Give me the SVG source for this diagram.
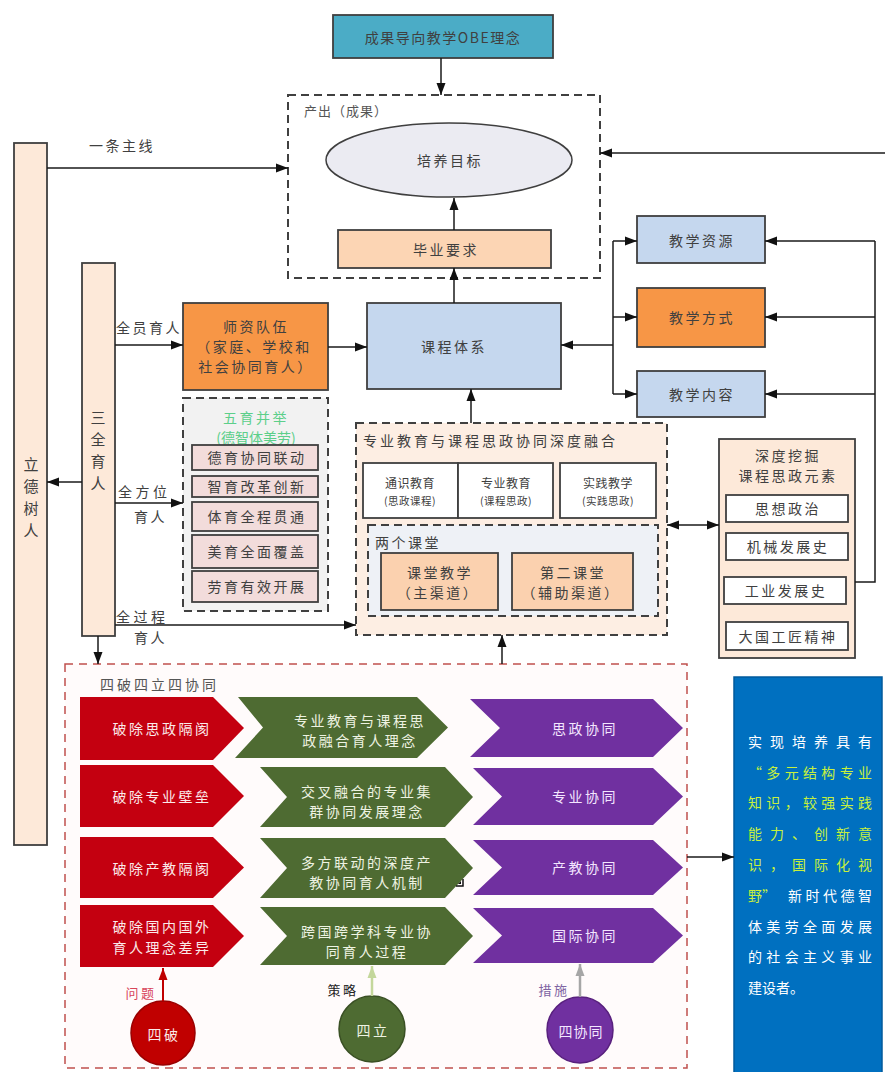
<svg xmlns="http://www.w3.org/2000/svg" width="885" height="1072" viewBox="0 0 885 1072">
<defs>
<style>
text{font-family:"Noto Sans CJK SC","Noto Sans",sans-serif;fill:#404040;font-size:14px;letter-spacing:2.5px;}
.c{text-anchor:middle;dominant-baseline:central;}
.l{dominant-baseline:central;}
.v{font-size:15px;letter-spacing:0;}
.box{stroke:#3f3f3f;stroke-width:1.8;}
.dash{stroke:#404040;stroke-width:2;stroke-dasharray:8 5;}
.ln{fill:none;stroke:#1a1a1a;stroke-width:1.5;}
.s{font-size:10.5px;letter-spacing:0.5px;}
.w{fill:#fbeaea;}
.wg{fill:#eef3e2;}
.wp{fill:#f3e6ff;}
.bt{fill:#ffffff;letter-spacing:0;}
.yt{fill:#c8f03c;letter-spacing:0;}
</style>
<marker id="ah" viewBox="0 0 12 10" refX="12" refY="5" markerWidth="12" markerHeight="10" markerUnits="userSpaceOnUse" orient="auto-start-reverse"><path d="M0,0.5 L12,5 L0,9.5 z" fill="#111"/></marker>
<marker id="ahr" viewBox="0 0 12 10" refX="12" refY="5" markerWidth="12" markerHeight="10" markerUnits="userSpaceOnUse" orient="auto"><path d="M0,0.5 L12,5 L0,9.5 z" fill="#c00000"/></marker>
<marker id="ahg" viewBox="0 0 12 10" refX="12" refY="5" markerWidth="12" markerHeight="10" markerUnits="userSpaceOnUse" orient="auto"><path d="M0,0.5 L12,5 L0,9.5 z" fill="#c4d79b"/></marker>
<marker id="ahp" viewBox="0 0 12 10" refX="12" refY="5" markerWidth="12" markerHeight="10" markerUnits="userSpaceOnUse" orient="auto"><path d="M0,0.5 L12,5 L0,9.5 z" fill="#a6a6a6"/></marker>
</defs>
<rect width="885" height="1072" fill="#ffffff"/>

<g id="obe">
<rect class="box" x="333" y="15" width="220" height="43" fill="#4bacc6"/>
<text class="c" x="443" y="37" style="letter-spacing:1.5px">成果导向教学OBE理念</text>
</g>

<g id="output">
<rect class="dash" x="288" y="95" width="312" height="183" fill="#ffffff"/>
<text class="l" x="304" y="110" style="font-size:13px;letter-spacing:1px;fill:#555">产出（成果）</text>
</g>
<g id="goal">
<ellipse cx="449" cy="160" rx="123" ry="37" fill="#ebebf2" stroke="#3f3f3f" stroke-width="1.5"/>
<text class="c" x="450" y="160">培养目标</text>
</g>
<g id="grad">
<rect class="box" x="338" y="230" width="213" height="38" fill="#fcd5b4"/>
<text class="c" x="446" y="249">毕业要求</text>
</g>

<g id="lide">
<rect class="box" x="14" y="143" width="33" height="702" fill="#fde9d9"/>
<text class="c v" x="31" y="463">立</text>
<text class="c v" x="31" y="485">德</text>
<text class="c v" x="31" y="507">树</text>
<text class="c v" x="31" y="529">人</text>
</g>
<text x="89" y="145" class="l">一条主线</text>

<g id="sanquan">
<rect class="box" x="82" y="263" width="33" height="373" fill="#fde9d9"/>
<text class="c v" x="98" y="416">三</text>
<text class="c v" x="98" y="438">全</text>
<text class="c v" x="98" y="460">育</text>
<text class="c v" x="98" y="482">人</text>
</g>
<text x="116" y="327" class="l">全员育人</text>
<text x="118" y="491" class="l" style="letter-spacing:3.5px">全方位</text>
<text x="134" y="516" class="l">育人</text>
<text x="116" y="616" class="l" style="letter-spacing:3.5px">全过程</text>
<text x="134" y="637" class="l">育人</text>

<g id="teachers">
<rect class="box" x="183" y="303" width="145" height="87" fill="#f79646"/>
<text class="c" x="256" y="326">师资队伍</text>
<text class="c" x="254" y="346">（家庭、学校和</text>
<text class="c" x="256" y="366">社会协同育人）</text>
</g>

<g id="curriculum">
<rect class="box" x="367" y="303" width="194" height="86" fill="#c5d7ee"/>
<text class="c" x="454" y="346">课程体系</text>
</g>

<g id="res">
<rect class="box" x="637" y="216" width="128" height="47" fill="#c5d7ee"/>
<text class="c" x="702" y="240">教学资源</text>
</g>
<g id="method">
<rect class="box" x="637" y="288" width="128" height="59" fill="#f79646"/>
<text class="c" x="702" y="317">教学方式</text>
</g>
<g id="content">
<rect class="box" x="637" y="371" width="128" height="46" fill="#c5d7ee"/>
<text class="c" x="702" y="394">教学内容</text>
</g>

<g id="wuyu">
<rect class="dash" x="183" y="398" width="145" height="213" fill="#f2f2f2"/>
<text class="c" x="256" y="417" style="fill:#5ccf8a">五育并举</text>
<text class="c" x="256" y="437" style="fill:#5ccf8a;letter-spacing:0">(德智体美劳)</text>
<rect class="box" x="192" y="445" width="126" height="25" fill="#f2dcdb"/>
<text class="c" x="257" y="457">德育协同联动</text>
<rect class="box" x="192" y="476" width="126" height="21" fill="#f2dcdb"/>
<text class="c" x="257" y="486">智育改革创新</text>
<rect class="box" x="192" y="502" width="126" height="29" fill="#f2dcdb"/>
<text class="c" x="257" y="516">体育全程贯通</text>
<rect class="box" x="192" y="535" width="126" height="33" fill="#f2dcdb"/>
<text class="c" x="257" y="551">美育全面覆盖</text>
<rect class="box" x="192" y="571" width="126" height="31" fill="#f2dcdb"/>
<text class="c" x="257" y="586">劳育有效开展</text>
</g>

<g id="fusion">
<rect class="dash" x="356" y="423" width="311" height="212" fill="#fdeee3"/>
<text class="l" x="363" y="440" style="letter-spacing:3px">专业教育与课程思政协同深度融合</text>
<rect class="box" x="363" y="463" width="95" height="55" fill="#ffffff"/>
<text class="c" x="410" y="482" style="font-size:12px;letter-spacing:0.5px">通识教育</text>
<text class="c s" x="410" y="500">(思政课程)</text>
<rect class="box" x="458" y="463" width="95" height="55" fill="#ffffff"/>
<text class="c" x="506" y="482" style="font-size:12px;letter-spacing:0.5px">专业教育</text>
<text class="c s" x="506" y="500">(课程思政)</text>
<rect class="box" x="560" y="463" width="96" height="55" fill="#ffffff"/>
<text class="c" x="608" y="482" style="font-size:12px;letter-spacing:0.5px">实践教学</text>
<text class="c s" x="608" y="500">(实践思政)</text>
</g>
<g id="two-classes">
<rect class="dash" x="368" y="525" width="290" height="91" fill="#eef1f6"/>
<text class="l" x="375" y="542">两个课堂</text>
<rect class="box" x="381" y="553" width="117" height="57" fill="#fbd1af"/>
<text class="c" x="440" y="572">课堂教学</text>
<text class="c" x="438" y="592">（主渠道）</text>
<rect class="box" x="512" y="553" width="121" height="57" fill="#fbd1af"/>
<text class="c" x="573" y="572">第二课堂</text>
<text class="c" x="571" y="592">（辅助渠道）</text>
</g>

<g id="mining">
<rect class="box" x="719" y="439" width="136" height="219" fill="#fde9d9"/>
<text class="c" x="788" y="455">深度挖掘</text>
<text class="c" x="788" y="475">课程思政元素</text>
<rect class="box" x="726" y="495" width="122" height="27" fill="#ffffff"/>
<text class="c" x="788" y="508">思想政治</text>
<rect class="box" x="726" y="533" width="122" height="27" fill="#ffffff"/>
<text class="c" x="788" y="546">机械发展史</text>
<rect class="box" x="724" y="577" width="122" height="27" fill="#ffffff"/>
<text class="c" x="786" y="590">工业发展史</text>
<rect class="box" x="726" y="622" width="122" height="28" fill="#ffffff"/>
<text class="c" x="788" y="636">大国工匠精神</text>
</g>

<g id="sipo">
<rect x="65" y="664" width="622" height="404" fill="#fffbfb" stroke="#c0504d" stroke-width="1.5" stroke-dasharray="8 6"/>
<text class="l" x="100" y="684" style="fill:#555;letter-spacing:3px">四破四立四协同</text>
</g>

<g id="red-row">
<path d="M80,697 L213,697 L244,728 L213,760 L80,760 Z" fill="#c40010"/>
<path d="M80,765 L213,765 L244,796 L213,827 L80,827 Z" fill="#c40010"/>
<path d="M80,837 L213,837 L244,867.5 L213,898 L80,898 Z" fill="#c40010"/>
<path d="M80,905 L213,905 L244,936 L213,967 L80,967 Z" fill="#c40010"/>
<text class="c w" x="162" y="728">破除思政隔阂</text>
<text class="c w" x="162" y="796">破除专业壁垒</text>
<text class="c w" x="162" y="868">破除产教隔阂</text>
<text class="c w" x="162" y="926">破除国内国外</text>
<text class="c w" x="162" y="947">育人理念差异</text>
</g>

<g id="green-row">
<path d="M238,697 L417,697 L448,727.5 L417,758 L235,758 L263,727.5 Z" fill="#4e6b32"/>
<path d="M260,767 L445,767 L473,797 L445,827 L260,827 L287,797 Z" fill="#4e6b32"/>
<path d="M260,838 L445,838 L473,868 L445,898 L260,898 L287,868 Z" fill="#4e6b32"/>
<path d="M260,907 L445,907 L473,936 L445,965 L260,965 L287,936 Z" fill="#4e6b32"/>
<text class="c wg" x="360" y="720">专业教育与课程思</text>
<text class="c wg" x="360" y="740">政融合育人理念</text>
<text class="c wg" x="367" y="791">交叉融合的专业集</text>
<text class="c wg" x="367" y="811">群协同发展理念</text>
<text class="c wg" x="367" y="862">多方联动的深度产</text>
<text class="c wg" x="367" y="882">教协同育人机制</text>
<text class="c wg" x="367" y="931">跨国跨学科专业协</text>
<text class="c wg" x="367" y="951">同育人过程</text>
<path d="M456,886 H463 V879" fill="none" stroke="#111" stroke-width="1.5"/>
<path d="M458,884 H461 V881 Z" fill="#111"/>
</g>

<g id="purple-row">
<path d="M470,699 L653,699 L683,728 L653,757 L470,757 L500,728 Z" fill="#7030a0"/>
<path d="M473,768 L653,768 L683,796.5 L653,825 L473,825 L502,796.5 Z" fill="#7030a0"/>
<path d="M473,840 L653,840 L683,867.5 L653,895 L473,895 L502,867.5 Z" fill="#7030a0"/>
<path d="M473,908 L653,908 L683,935.5 L653,963 L473,963 L502,935.5 Z" fill="#7030a0"/>
<text class="c wp" x="585" y="728">思政协同</text>
<text class="c wp" x="585" y="796">专业协同</text>
<text class="c wp" x="585" y="867">产教协同</text>
<text class="c wp" x="585" y="935">国际协同</text>
</g>

<g id="sipo-circle">
<circle cx="163" cy="1033" r="32" fill="#c00000" stroke="#9a0000" stroke-width="1.5"/>
<text class="c w" x="164" y="1034">四破</text>
<text class="c" x="141" y="992" style="font-size:13px;fill:#d8455a">问题</text>
</g>
<g id="sili-circle">
<circle cx="372" cy="1029" r="33" fill="#4e6b32" stroke="#3a5024" stroke-width="1.5"/>
<text class="c wg" x="373" y="1030">四立</text>
<text class="c" x="343" y="989" style="font-size:13px;fill:#222">策略</text>
</g>
<g id="sixietong-circle">
<circle cx="580" cy="1030" r="33" fill="#7030a0" stroke="#58207e" stroke-width="1.5"/>
<text class="c wp" x="581" y="1031" style="letter-spacing:1px">四协同</text>
<text class="c" x="554" y="989" style="font-size:13px;fill:#8064a2">措施</text>
</g>

<g id="goal-box">
<rect x="734" y="677" width="148" height="400" fill="#0070c0" stroke="#005a9c" stroke-width="1.5"/>
<text class="bt" x="748" y="747" textLength="124" lengthAdjust="spacing">实现培养具有</text>
<text class="yt" x="748" y="778" textLength="124" lengthAdjust="spacing">“多元结构专业</text>
<text class="yt" x="748" y="808" textLength="124" lengthAdjust="spacing">知识，较强实践</text>
<text class="yt" x="748" y="839" textLength="124" lengthAdjust="spacing">能力、创新意</text>
<text class="yt" x="748" y="870" textLength="124" lengthAdjust="spacing">识，国际化视</text>
<text class="yt" x="748" y="901">野”</text>
<text class="bt" x="788" y="901" textLength="84" lengthAdjust="spacing">新时代德智</text>
<text class="bt" x="748" y="932" textLength="124" lengthAdjust="spacing">体美劳全面发展</text>
<text class="bt" x="748" y="962" textLength="124" lengthAdjust="spacing">的社会主义事业</text>
<text class="bt" x="748" y="993">建设者。</text>
</g>

<g id="connectors" class="ln">
<path d="M441,58 V95" marker-end="url(#ah)"/>
<path d="M454,230 V198" marker-end="url(#ah)"/>
<path d="M454,303 V268" marker-end="url(#ah)"/>
<path d="M885,153 H600" marker-end="url(#ah)"/>
<path d="M47,168 H288" marker-end="url(#ah)"/>
<path d="M115,345 H183" marker-end="url(#ah)"/>
<path d="M328,347 H367" marker-end="url(#ah)"/>
<path d="M613,345 H561" marker-end="url(#ah)"/>
<path d="M613,241 V394"/>
<path d="M613,241 H637" marker-end="url(#ah)"/>
<path d="M613,317 H637" marker-end="url(#ah)"/>
<path d="M613,394 H637" marker-end="url(#ah)"/>
<path d="M855,582 H875 V241"/>
<path d="M875,241 H765" marker-end="url(#ah)"/>
<path d="M875,317 H765" marker-end="url(#ah)"/>
<path d="M875,394 H765" marker-end="url(#ah)"/>
<path d="M471,423 V389" marker-end="url(#ah)"/>
<path d="M667,525 H719" marker-start="url(#ah)" marker-end="url(#ah)"/>
<path d="M82,482 H47" marker-end="url(#ah)"/>
<path d="M115,503 H183" marker-end="url(#ah)"/>
<path d="M115,625 H356" marker-end="url(#ah)"/>
<path d="M98,636 V664" marker-end="url(#ah)"/>
<path d="M502,664 V635" marker-end="url(#ah)"/>
<path d="M687,857 H734" marker-end="url(#ah)"/>
<path d="M163,1001 V968" stroke="#c00000" stroke-width="2" marker-end="url(#ahr)"/>
<path d="M372,996 V966" stroke="#c4d79b" stroke-width="2.5" marker-end="url(#ahg)"/>
<path d="M580,997 V964" stroke="#a6a6a6" stroke-width="2.5" marker-end="url(#ahp)"/>
</g>
</svg>
